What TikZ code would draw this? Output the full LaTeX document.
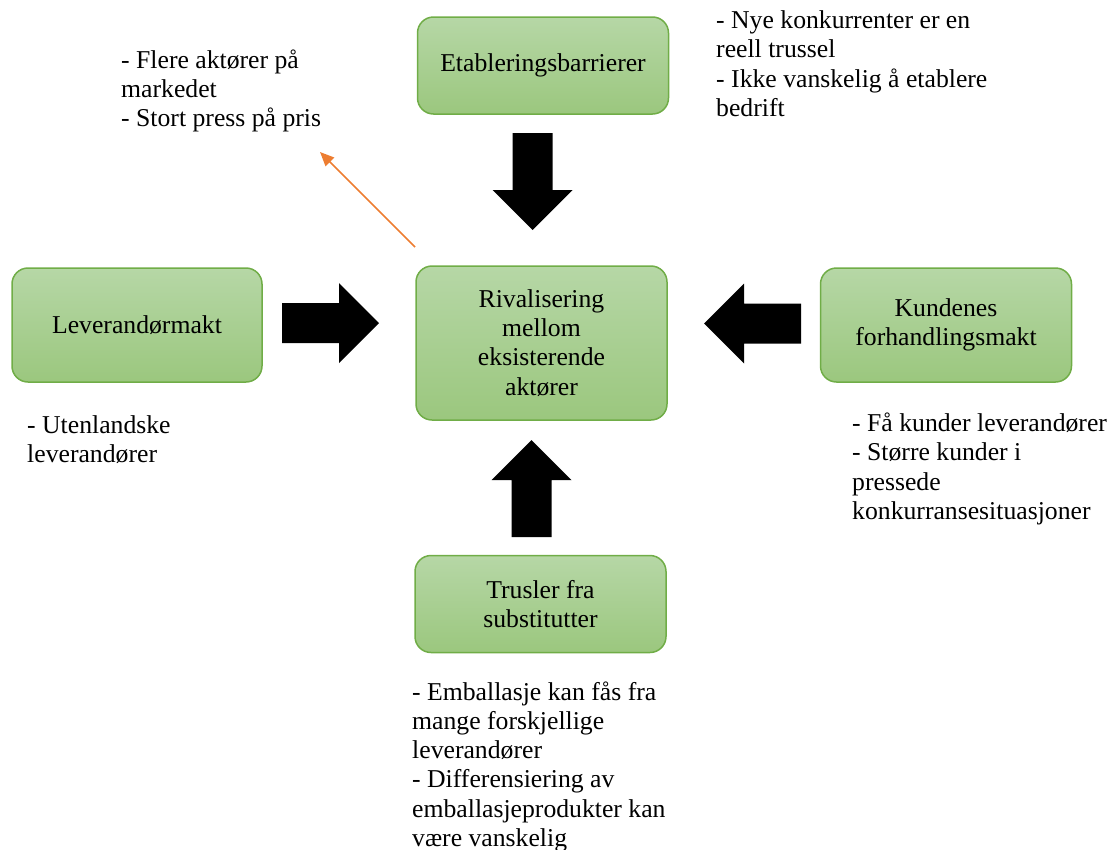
\documentclass[tikz,border=0pt]{standalone}
\usepackage{fontspec}
\setmainfont{Liberation Serif}
\usetikzlibrary{arrows.meta}

\definecolor{boxtop}{RGB}{182,215,166}
\definecolor{boxbot}{RGB}{155,199,126}
\definecolor{boxline}{RGB}{112,173,71}
\definecolor{accentorange}{RGB}{237,125,49}

\tikzset{
  bodyfont/.style={font=\fontsize{25.7}{29.2}\selectfont},
  force/.style={bodyfont, draw=boxline, line width=1.5pt, rounded corners=16pt,
    top color=boxtop, bottom color=boxbot, align=center, inner sep=0pt,
    minimum width=251pt},
  note/.style={bodyfont, anchor=north west, inner sep=0pt, align=left},
  % thick block arrow, drawn pointing right from its base at the origin
  fatarrow/.pic={
    \fill[black] (0,-20) -- (57,-20) -- (57,-40) -- (97,0) -- (57,40)
      -- (57,20) -- (0,20) -- cycle;
  },
  pointer/.style={draw=accentorange, line width=1.6pt,
    -{Triangle[length=14pt,width=12pt]}}
}

\begin{document}
\begin{tikzpicture}[x=1pt,y=-1pt]
\useasboundingbox (0,0) rectangle (1110,849);

% the five forces
\node[force, minimum height=97pt]  (etab)  at (543,65.5)  {Etableringsbarrierer};
\node[force, minimum height=154pt] (rival) at (541.5,343) {Rivalisering\\mellom\\eksisterende\\aktører};
\node[force, minimum height=114pt, minimum width=250pt] (lev) at (137,325) {Leverandørmakt};
\node[force, minimum height=114pt] (kund)  at (946,325)   {Kundenes\\forhandlingsmakt};
\node[force, minimum height=97pt]  (trus)  at (540.5,604) {Trusler fra\\substitutter};

% block arrows pressing on the rivalry box
\pic[rotate=-90] (pdown)  at (532.5,133) {fatarrow};
\pic             (pright) at (282,323)   {fatarrow};
\pic[rotate=180] (pleft)  at (801,323.5) {fatarrow};
\pic[rotate=90]  (pup)    at (531.5,537) {fatarrow};

% comments beside each force
\node[note] (n-rival) at (121,47.6)
  {\strut- Flere aktører på\\markedet\\- Stort press på pris};
\node[note] (n-etab) at (716,8)
  {\strut- Nye konkurrenter er en\\reell trussel\\- Ikke vanskelig å etablere\\bedrift};
\node[note] (n-lev) at (27,412.6)
  {\strut- Utenlandske\\leverandører};
\node[note] (n-kund) at (852,411)
  {\strut- Få kunder leverandører\\- Større kunder i\\pressede\\konkurransesituasjoner};
\node[note] (n-trus) at (412,679.6)
  {\strut- Emballasje kan fås fra\\mange forskjellige\\leverandører\\- Differensiering av\\emballasjeprodukter kan\\være vanskelig};

% pointer from the rivalry box to its comment
\coordinate (ptr-start) at (415,247);
\coordinate (ptr-end)   at (320,152);
\draw[pointer] (ptr-start) -- (ptr-end);
\end{tikzpicture}
\end{document}
